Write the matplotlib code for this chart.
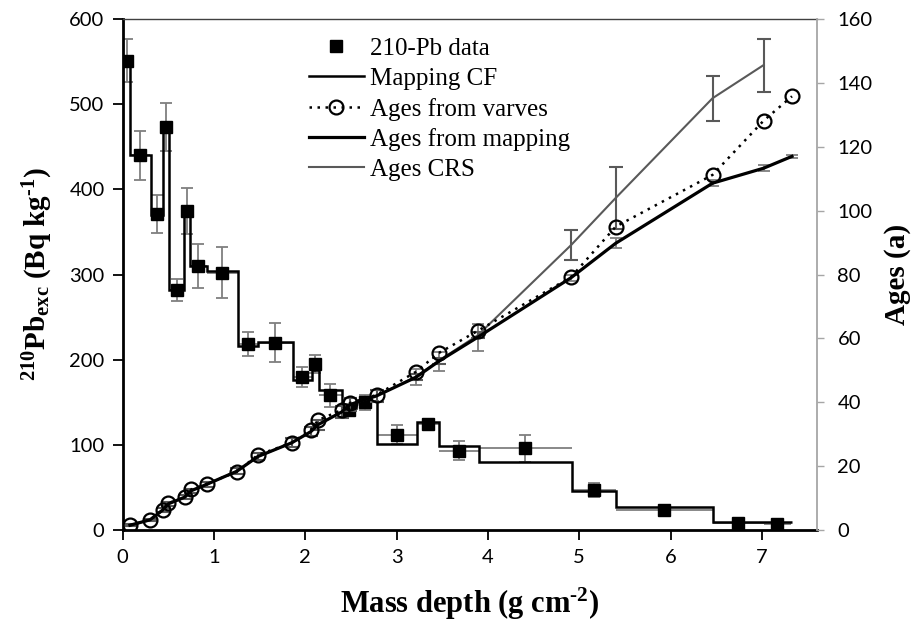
import matplotlib
matplotlib.use('Agg')
import matplotlib.pyplot as plt
from matplotlib.lines import Line2D

plt.rcParams['mathtext.fontset'] = 'custom'
plt.rcParams['mathtext.rm'] = 'Liberation Serif:bold'
plt.rcParams['mathtext.it'] = 'Liberation Serif:italic:bold'
plt.rcParams['mathtext.bf'] = 'Liberation Serif:bold'

# 210-Pb excess activities (left axis)
pb_depth = [0.05, 0.19, 0.375, 0.475, 0.59, 0.705, 0.83, 1.09, 1.37, 1.67, 1.965, 2.11,
            2.275, 2.48, 2.65, 3.0, 3.34, 3.68, 4.41, 5.16, 5.93, 6.74, 7.17]
pb_depth_err = [0.04, 0.11, 0.065, 0.035, 0.08, 0.035, 0.09, 0.17, 0.11, 0.19, 0.105, 0.04,
                0.125, 0.08, 0.11, 0.22, 0.12, 0.22, 0.51, 0.24, 0.53, 0.28, 0.15]
pb_value = [551, 440, 371, 473, 282, 375, 310, 302, 218, 220, 180, 195,
            158, 141, 150, 112, 125, 93, 96, 47, 23, 8, 7]
pb_err = [25, 29, 22, 28, 13, 27, 26, 30, 14, 23, 12, 11,
          14, 7, 9, 11, 5, 11, 16, 8, 4, 3, 3]

# Mapping CF model (step function)
cf_edges = [0.0, 0.08, 0.31, 0.44, 0.51, 0.67, 0.74, 0.92, 1.26, 1.48, 1.86, 2.07, 2.15,
            2.40, 2.56, 2.78, 3.22, 3.46, 3.90, 4.92, 5.40, 6.46, 7.02, 7.33]
cf_value = [551, 440, 370, 473, 282, 375, 310, 304, 216, 221, 176, 188,
            164, 143, 152, 101, 127, 99, 80, 46, 27, 10, 9]

# Ages (right axis)
age_depth = [0.08, 0.30, 0.44, 0.50, 0.68, 0.75, 0.92, 1.25, 1.48, 1.85, 2.06, 2.14,
             2.40, 2.49, 2.78, 3.21, 3.46, 3.89, 4.91, 5.40, 6.46, 7.02, 7.33]
varve_age = [1.5, 3.2, 6.3, 8.4, 10.3, 12.7, 14.5, 18.2, 23.5, 27.3, 31.3, 34.4,
             37.6, 39.8, 42.3, 49.5, 55.4, 62.4, 79.2, 95.0, 111.2, 128.2, 135.8]
mapping_age = [1.5, 3.2, 6.3, 8.2, 10.3, 12.3, 14.3, 18.4, 23.0, 27.3, 30.8, 33.0,
               37.0, 39.3, 42.0, 47.8, 52.8, 60.4, 79.0, 89.8, 108.6, 113.3, 117.0]
mapping_err = [0.3, 0.4, 0.5, 0.6, 0.6, 0.7, 0.8, 1.0, 1.2, 1.4, 1.5, 1.6,
               1.8, 1.9, 2.0, 2.5, 3.0, 4.2, 1.0, 1.5, 1.0, 1.0, 0.5]
crs_depth = [0.08, 0.30, 0.44, 0.50, 0.68, 0.75, 0.92, 1.25, 1.48, 1.85, 2.06, 2.14,
             2.40, 2.49, 2.78, 3.21, 3.46, 3.89, 4.91, 5.40, 6.46, 7.02]
crs_age = [1.5, 3.2, 6.3, 8.2, 10.3, 12.3, 14.3, 18.4, 23.0, 27.3, 30.8, 33.0,
           37.0, 39.3, 42.0, 48.0, 53.0, 61.0, 89.2, 104.0, 135.2, 145.6]
crs_err = [0.3, 0.4, 0.5, 0.6, 0.6, 0.7, 0.8, 1.0, 1.2, 1.4, 1.5, 1.6,
           1.8, 1.9, 2.0, 1.0, 1.0, 1.0, 4.7, 9.8, 7.0, 8.3]

gray = '#7f7f7f'
serif = 'Liberation Serif'
tickfont = 'Lato'

fig = plt.figure(figsize=(9.21, 6.28), dpi=100)
ax = fig.add_axes([0.1332, 0.156, 0.7535, 0.8137])
ax2 = ax.twinx()

# left axis: activities
ax.errorbar(pb_depth, pb_value, xerr=pb_depth_err, fmt='none', ecolor=gray,
            elinewidth=1.3, capsize=0, zorder=2)
ax.errorbar(pb_depth, pb_value, yerr=pb_err, fmt='none', ecolor=gray,
            elinewidth=1.3, capsize=4, capthick=1.3, zorder=2)
ax.stairs(cf_value, cf_edges, baseline=None, color='black', lw=1.8, zorder=3)
ax.plot(pb_depth, pb_value, ls='none', marker='s', ms=9, color='black', zorder=4)

# right axis: ages
ax2.errorbar(age_depth, mapping_age, yerr=mapping_err, fmt='none', ecolor=gray,
             elinewidth=1.3, capsize=4, capthick=1.3, zorder=2)
ax2.errorbar(crs_depth, crs_age, yerr=crs_err, fmt='none', ecolor='#595959',
             elinewidth=1.5, capsize=5, capthick=1.5, zorder=2)
ax2.plot(crs_depth, crs_age, color='#595959', lw=1.5, zorder=3)
ax2.plot(age_depth, mapping_age, color='black', lw=2.3, zorder=3)
ax2.plot(age_depth, varve_age, color='black', ls=(0, (1, 2.2)), lw=1.8,
         marker='o', ms=10, mfc='none', mec='black', mew=1.6, zorder=4)

ax.set_xlim(0, 7.6)
ax.set_ylim(0, 600)
ax2.set_ylim(0, 160)
ax.set_xticks(range(0, 8))
ax.set_yticks(range(0, 601, 100))
ax2.set_yticks(range(0, 161, 20))

for a in (ax, ax2):
    for lab in a.get_xticklabels() + a.get_yticklabels():
        lab.set_fontfamily(tickfont)
        lab.set_fontsize(14.5)

ax.tick_params(axis='both', direction='out', length=7, width=1.3, color='black', pad=6)
ax.tick_params(axis='x', pad=7)
ax2.tick_params(axis='y', direction='out', length=5, width=1, color='#a6a6a6', pad=10)

ax.spines['left'].set_linewidth(2.0)
ax.spines['bottom'].set_linewidth(2.0)
ax.spines['top'].set_linewidth(1.0)
ax.spines['top'].set_color('#404040')
ax.spines['right'].set_visible(False)
ax2.spines['left'].set_visible(False)
ax2.spines['bottom'].set_visible(False)
ax2.spines['top'].set_visible(False)
ax2.spines['right'].set_color('#a6a6a6')
ax2.spines['right'].set_linewidth(1.3)

ax.set_xlabel(r'Mass depth (g cm$^{\text{-2}}$)', fontfamily=serif, fontweight='bold',
              fontsize=22, labelpad=14)
ax.set_ylabel(r'$^{210}$Pb$_{\rm exc}$ (Bq kg$^{\text{-1}}$)', fontfamily=serif,
              fontweight='bold', fontsize=21, labelpad=10)
ax2.set_ylabel('Ages (a)', fontfamily=serif, fontweight='bold', fontsize=21,
               labelpad=8)

handles = [
    Line2D([], [], ls='none', marker='s', ms=9, color='black'),
    Line2D([], [], color='black', lw=1.8),
    Line2D([], [], color='black', ls=(0, (1, 2.2)), lw=1.8, marker='o', ms=10,
           mfc='none', mec='black', mew=1.6),
    Line2D([], [], color='black', lw=2.3),
    Line2D([], [], color='#595959', lw=1.5),
]
labels = ['210-Pb data', 'Mapping CF', 'Ages from varves', 'Ages from mapping', 'Ages CRS']
ax2.legend(handles, labels, loc='upper left', bbox_to_anchor=(0.3355, 0.94),
           bbox_transform=fig.transFigure, frameon=False, borderpad=0,
           borderaxespad=0, handlelength=2.2, handletextpad=0.25,
           labelspacing=0.3, prop={'family': serif, 'size': 18})

fig.savefig('out.png', dpi=100)
